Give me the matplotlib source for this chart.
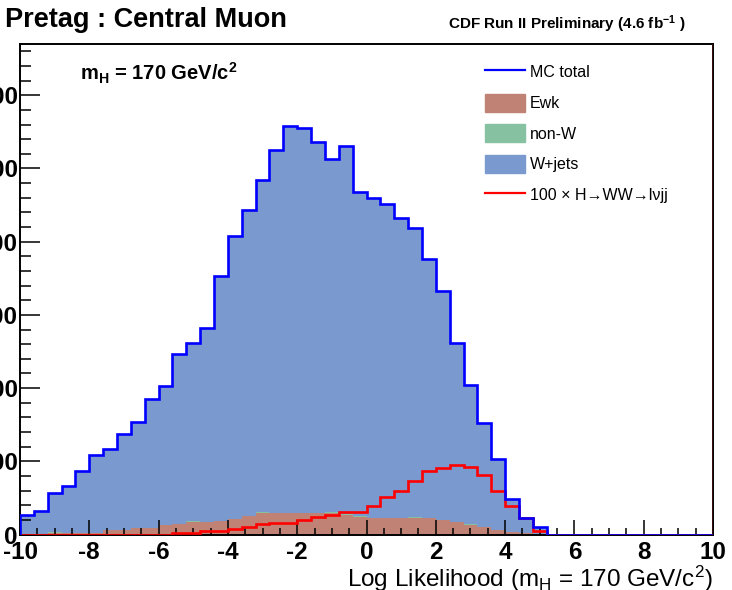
import matplotlib
matplotlib.use("Agg")
import matplotlib.pyplot as plt
import numpy as np
from matplotlib.lines import Line2D
from matplotlib.patches import Patch

plt.rcParams['font.family'] = ['Liberation Sans', 'DejaVu Sans']
plt.rcParams['mathtext.default'] = 'regular'
plt.rcParams['axes.unicode_minus'] = False

# 50 bins of log likelihood from -10 to 10
edges = np.linspace(-10, 10, 51)

ewk = [7, 7, 14, 14, 14, 21, 55, 55, 86, 86,
       123, 150, 164, 168, 191, 214, 250, 287, 296, 296,
       296, 296, 287, 266, 236, 223, 223, 223, 225, 219,
       201, 164, 123, 96, 61, 34, 14, 7, 0, 0,
       0, 0, 0, 0, 0, 0, 0, 0, 0, 0]
nonw = [0, 0, 20, 0, 0, 0, 0, 0, 0, 0,
        0, 0, 20, 0, 0, 0, 0, 20, 0, 0,
        0, 0, 20, 20, 20, 0, 0, 0, 20, 0,
        0, 0, 20, 0, 0, 0, 0, 0, 0, 0,
        0, 0, 0, 0, 0, 0, 0, 0, 0, 0]
wjets = [262, 311, 536, 642, 860, 1068, 1116, 1311, 1444, 1768,
         1899, 2309, 2435, 2646, 3338, 3857, 4186, 4529, 4950, 5287,
         5250, 5059, 4826, 5019, 4416, 4371, 4285, 4103, 3939, 3547,
         3128, 2455, 1902, 1430, 973, 454, 214, 102, 0, 0,
         0, 0, 0, 0, 0, 0, 0, 0, 0, 0]
# signal already scaled by 100
signal = [0, 0, 0, 0, 0, 0, 0, 0, 0, 0,
          0, 27, 27, 48, 48, 78, 109, 137, 160, 160,
          195, 242, 273, 307, 307, 383, 519, 601, 731, 874,
          915, 952, 919, 810, 601, 383, 223, 41, 0, 0,
          0, 0, 0, 0, 0, 0, 0, 0, 0, 0]

ewk = np.array(ewk)
nonw = np.array(nonw)
wjets = np.array(wjets)
signal = np.array(signal)

c_ewk = '#bf8275'
c_nonw = '#86c1a2'
c_wjets = '#7a99cf'

fig = plt.figure(figsize=(7.32, 5.90), dpi=100)
ax = fig.add_axes([20 / 732, 1 - 534.5 / 590, 693 / 732, 490.5 / 590])

s1 = ewk
s2 = s1 + nonw
s3 = s2 + wjets
ax.stairs(s1, edges, baseline=0, fill=True, color=c_ewk, lw=0)
ax.stairs(s2, edges, baseline=s1, fill=True, color=c_nonw, lw=0)
ax.stairs(s3, edges, baseline=s2, fill=True, color=c_wjets, lw=0)
ax.stairs(signal, edges, baseline=0, color='#ff0000', lw=1.9, zorder=3)
ax.stairs(s3, edges, baseline=0, color='#0000ff', lw=1.9, zorder=4)

ax.set_xlim(-10, 10)
ax.set_ylim(0, 6700)
ax.set_xticks(np.arange(-10, 11, 2))
ax.set_xticks(np.arange(-10, 10.01, 0.5), minor=True)
ax.set_yticks(np.arange(0, 6001, 1000))
ax.set_yticks(np.arange(0, 6700, 200), minor=True)
ax.tick_params(axis='x', which='major', direction='in', length=10.8, width=1.1, pad=4.5,
               labelsize=17.5)
ax.tick_params(axis='x', which='minor', direction='in', length=5, width=1.1)
ax.tick_params(axis='y', which='major', direction='in', length=14.4, width=1.1, pad=1.5,
               labelsize=17.5)
ax.tick_params(axis='y', which='minor', direction='in', length=7.9, width=1.1)
for lab in ax.get_xticklabels() + ax.get_yticklabels():
    lab.set_fontweight('bold')
for sp in ax.spines.values():
    sp.set_linewidth(1.4)
    sp.set_color('black')
ax.axvline(10, color='#ff3030', lw=1.0, zorder=5)

ax.set_xlabel(r'Log Likelihood (m$_H$ = 170 GeV/c$^2$)', fontsize=17.5, ha='right', x=1.0,
              labelpad=0)

fig.text(5 / 732, 1 - 27 / 590, 'Pretag : Central Muon', fontsize=19.5, fontweight='bold',
         va='baseline')
fig.text(448 / 732, 1 - 29 / 590, r'CDF Run II Preliminary (4.6 fb$^{-1}$ )', fontsize=11,
         fontweight='bold', va='baseline')
ax.text(80 / 732, 1 - 80 / 590, r'm$_H$ = 170 GeV/c$^2$', fontsize=14.5, fontweight='bold',
        transform=fig.transFigure, va='baseline')

handles = [Line2D([], [], color='#0000ff', lw=1.6),
           Patch(color=c_ewk), Patch(color=c_nonw), Patch(color=c_wjets),
           Line2D([], [], color='#ff0000', lw=1.6)]
labels = ['MC total', 'Ewk', 'non-W', 'W+jets', '100 × H→WW→lνjj']
ax.legend(handles, labels, loc='upper left', bbox_to_anchor=(485 / 732, 1 - 63 / 590),
          bbox_transform=fig.transFigure, frameon=False, fontsize=11.5,
          handlelength=2.5, handleheight=1.35, labelspacing=0.8, handletextpad=0.3,
          borderpad=0, borderaxespad=0)

fig.savefig('out.png', dpi=100)
